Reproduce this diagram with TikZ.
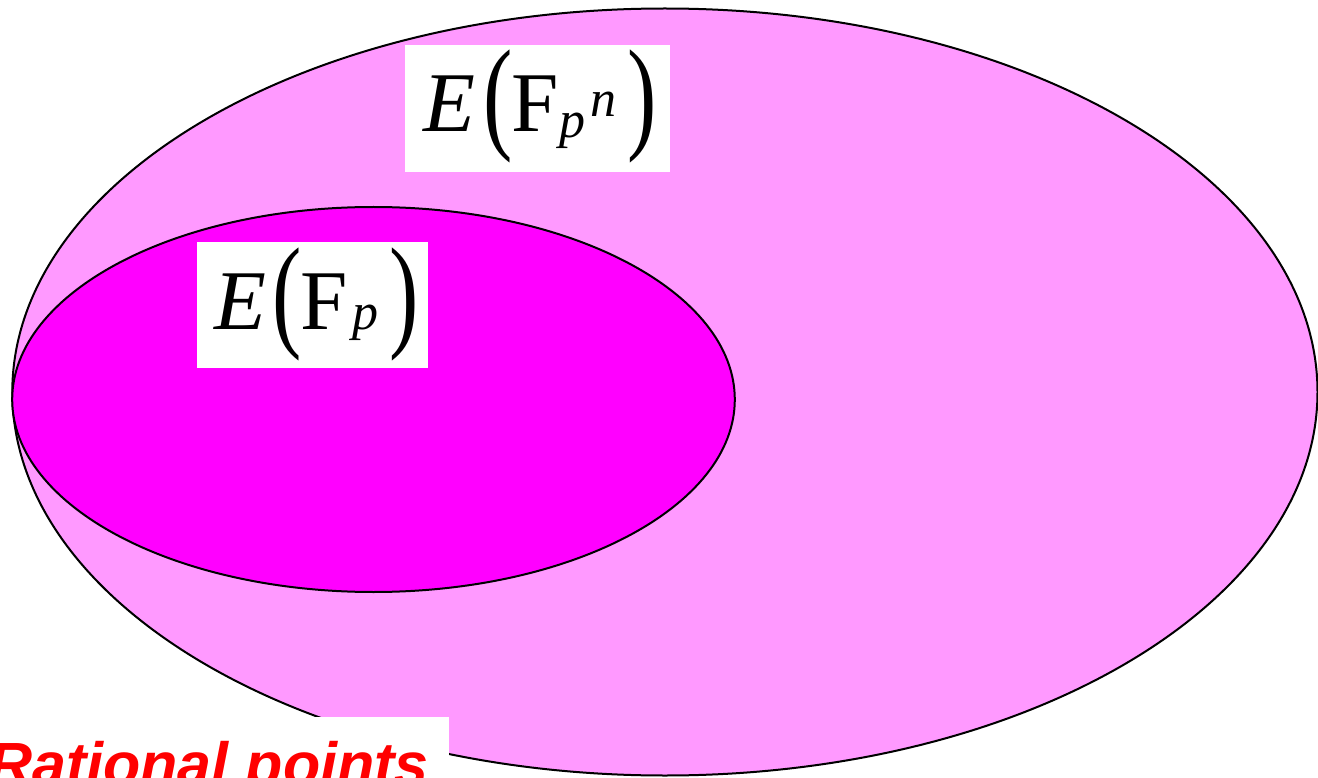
\documentclass[tikz,border=0pt]{standalone}
\usepackage{fontspec}
\setmainfont{Liberation Serif}
\newfontfamily\arialfont{Liberation Sans}
\usepackage{graphicx}
\definecolor{lightmag}{HTML}{FF99FF}
\definecolor{mag}{HTML}{FF00FF}
\newcommand{\bigparen}[1]{\raisebox{-5pt}{\scalebox{1}[1.42]{\fontsize{88}{88}\selectfont\upshape #1}}}
\tikzset{
  setline/.style={draw=black, line width=2pt},
  labelbox/.style={fill=white, inner sep=0pt},
  mathtext/.style={anchor=base west, inner sep=0pt, font=\fontsize{85}{85}\selectfont},
}
\begin{document}
\begin{tikzpicture}[x=1pt,y=-1pt]
\clip (0,0) rectangle (1318,778);
\fill[white] (0,0) rectangle (1318,778);
% outer set E(F_{p^n})
\draw[setline, fill=lightmag] (664.9,392) ellipse [x radius=652.6, y radius=383.5];
% inner set E(F_p)
\draw[setline, fill=mag] (373.5,399.5) ellipse [x radius=361.3, y radius=192.5];
% label boxes
\node[labelbox, minimum width=265pt, minimum height=127pt] (b1) at (537.5,108.5) {};
\node[labelbox, minimum width=231.6pt, minimum height=126.6pt] (b2) at (312.5,305) {};
\node[mathtext] (t1) at (423,132) {\itshape E\kern7.9pt\bigparen{(}\kern-1.1pt\upshape F\kern1pt\raisebox{-5.7pt}{\fontsize{52}{52}\selectfont\itshape p}\kern5pt\raisebox{15pt}{\fontsize{52}{52}\selectfont\itshape n}\kern11.4pt\bigparen{)}};
\node[mathtext] (t2) at (214,330) {\itshape E\kern6.6pt\bigparen{(}\kern-1.1pt\upshape F\kern3.9pt{\fontsize{52}{52}\selectfont\itshape p}\kern11.2pt\bigparen{)}};
% Rational points
\node[anchor=base west, fill=white, inner xsep=20pt, inner ysep=24pt, text=red,
      font=\arialfont\bfseries\itshape\fontsize{61}{61}\selectfont] (rp) at (-32,785) {Rational points};
\end{tikzpicture}
\end{document}
